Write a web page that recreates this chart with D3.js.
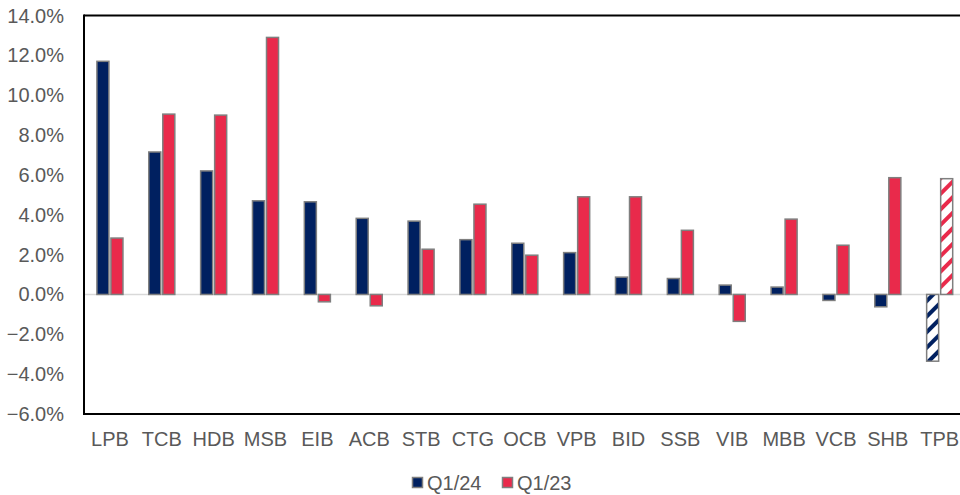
<!DOCTYPE html>
<html>
<head>
<meta charset="utf-8">
<script src="https://cdn.jsdelivr.net/npm/d3@7"></script>
<style>
  body { margin: 0; background: #fff; }
  text { font-family: Arial, "Liberation Sans", sans-serif; }
</style>
</head>
<body>
<div id="chart"></div>
<script>
// data
const categories = ['LPB', 'TCB', 'HDB', 'MSB', 'EIB', 'ACB', 'STB', 'CTG', 'OCB', 'VPB', 'BID', 'SSB', 'VIB', 'MBB', 'VCB', 'SHB', 'TPB'];
const seriesNames = ['Q1/24', 'Q1/23'];
const q124 = [11.7, 7.15, 6.2, 4.7, 4.65, 3.82, 3.68, 2.75, 2.57, 2.1, 0.87, 0.8, 0.47, 0.37, -0.3, -0.62, -3.35];
const q123 = [2.83, 9.05, 9.0, 12.9, -0.37, -0.57, 2.27, 4.53, 1.97, 4.9, 4.9, 3.22, -1.35, 3.78, 2.47, 5.86, 5.81];
const yTicks = [-6, -4, -2, 0, 2, 4, 6, 8, 10, 12, 14];
const hatched = ['TPB'];

const colors = { 'Q1/24': '#002060', 'Q1/23': '#E92A4B' };
const W = 960, H = 495;
const plotLeft = 84, plotRight = 965.6, plotTop = 15.5, plotBottom = 414;

const svg = d3.select('#chart').append('svg')
    .attr('width', W)
    .attr('height', H);

const defs = svg.append('defs');
seriesNames.forEach((s, i) => {
    const p = defs.append('pattern')
        .attr('id', 'hatch' + i)
        .attr('patternUnits', 'userSpaceOnUse')
        .attr('width', 11)
        .attr('height', 11)
        .attr('patternTransform', 'rotate(45)');
    p.append('rect').attr('width', 11).attr('height', 11).attr('fill', '#fff');
    p.append('rect').attr('width', 4).attr('height', 11).attr('fill', colors[s]);
});

const x0 = d3.scaleBand()
    .domain(categories)
    .range([plotLeft, plotRight])
    .padding(0);

const x1 = d3.scaleBand()
    .domain(seriesNames)
    .range([0, x0.bandwidth()])
    .paddingInner(0.143)
    .paddingOuter(0.92);

const y = d3.scaleLinear()
    .domain([-6, 14])
    .range([plotBottom, plotTop]);

// y tick labels
svg.append('g')
    .selectAll('text')
    .data(yTicks)
    .join('text')
    .attr('x', 64)
    .attr('y', d => y(d))
    .attr('dy', '0.35em')
    .attr('text-anchor', 'end')
    .attr('font-size', 20)
    .attr('fill', '#595959')
    .text(d => d3.format('.1f')(d) + '%');

// zero line
svg.append('line')
    .attr('x1', plotLeft).attr('x2', plotRight)
    .attr('y1', y(0)).attr('y2', y(0))
    .attr('stroke', '#d9d9d9')
    .attr('stroke-width', 1.5);

// bars
const rows = categories.map((c, i) => ({ cat: c, values: [q124[i], q123[i]] }));

const groups = svg.append('g')
    .selectAll('g')
    .data(rows)
    .join('g')
    .attr('transform', d => `translate(${x0(d.cat)},0)`);

groups.selectAll('rect')
    .data(d => d.values.map((v, i) => ({ cat: d.cat, key: seriesNames[i], idx: i, value: v })))
    .join('rect')
    .attr('x', d => x1(d.key))
    .attr('width', x1.bandwidth())
    .attr('y', d => y(Math.max(0, d.value)))
    .attr('height', d => Math.abs(y(d.value) - y(0)))
    .attr('fill', d => hatched.includes(d.cat) ? `url(#hatch${d.idx})` : colors[d.key])
    .attr('stroke', '#7f7f7f')
    .attr('stroke-width', 1.5);

// plot frame (left, top, bottom)
svg.append('line')
    .attr('x1', plotLeft).attr('x2', plotLeft)
    .attr('y1', plotTop - 1).attr('y2', plotBottom + 1)
    .attr('stroke', '#000').attr('stroke-width', 2);
svg.append('line')
    .attr('x1', plotLeft).attr('x2', W)
    .attr('y1', plotTop).attr('y2', plotTop)
    .attr('stroke', '#000').attr('stroke-width', 2);
svg.append('line')
    .attr('x1', plotLeft).attr('x2', W)
    .attr('y1', plotBottom).attr('y2', plotBottom)
    .attr('stroke', '#000').attr('stroke-width', 2);

// category labels
svg.append('g')
    .selectAll('text')
    .data(categories)
    .join('text')
    .attr('x', d => x0(d) + x0.bandwidth() / 2)
    .attr('y', 439)
    .attr('dy', '0.35em')
    .attr('text-anchor', 'middle')
    .attr('font-size', 20)
    .attr('fill', '#595959')
    .text(d => d);

// legend
const legendX = [412, 502];
const legend = svg.append('g')
    .selectAll('g')
    .data(seriesNames)
    .join('g')
    .attr('transform', (d, i) => `translate(${legendX[i]},482.5)`);

legend.append('rect')
    .attr('x', 0.5)
    .attr('y', -5)
    .attr('width', 10)
    .attr('height', 10)
    .attr('fill', d => colors[d])
    .attr('stroke', '#7f7f7f')
    .attr('stroke-width', 1.5);

legend.append('text')
    .attr('x', 15)
    .attr('y', 0)
    .attr('dy', '0.35em')
    .attr('font-size', 20)
    .attr('fill', '#595959')
    .text(d => d);
</script>
</body>
</html>
